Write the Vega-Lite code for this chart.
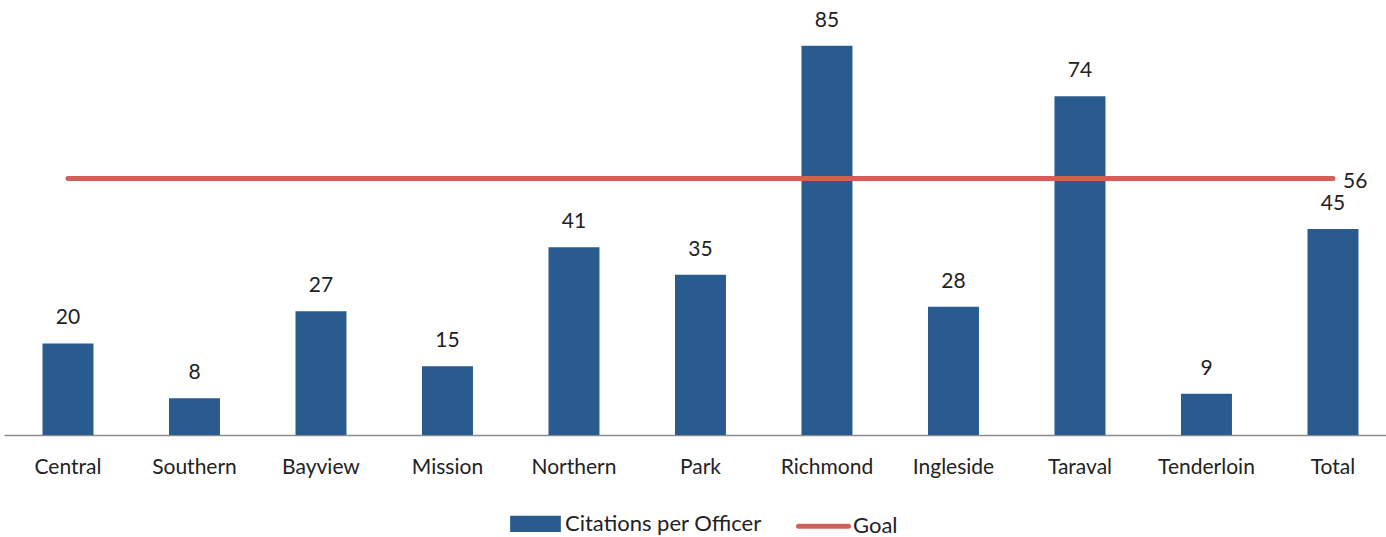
{
  "$schema": "https://vega.github.io/schema/vega-lite/v6.json",
  "width": 1382,
  "height": 435,
  "autosize": {"type": "none"},
  "padding": {"left": 4, "top": 0, "right": 0, "bottom": 102},
  "background": "white",
  "config": {
    "view": {"stroke": null},
    "font": "Lato",
    "text": {"font": "Lato"}
  },
  "data": {
    "values": [
      {"station": "Central", "citations": 20, "goal": 56},
      {"station": "Southern", "citations": 8, "goal": 56},
      {"station": "Bayview", "citations": 27, "goal": 56},
      {"station": "Mission", "citations": 15, "goal": 56},
      {"station": "Northern", "citations": 41, "goal": 56},
      {"station": "Park", "citations": 35, "goal": 56},
      {"station": "Richmond", "citations": 85, "goal": 56},
      {"station": "Ingleside", "citations": 28, "goal": 56},
      {"station": "Taraval", "citations": 74, "goal": 56},
      {"station": "Tenderloin", "citations": 9, "goal": 56},
      {"station": "Total", "citations": 45, "goal": 56}
    ]
  },
  "encoding": {
    "x": {
      "field": "station",
      "type": "nominal",
      "sort": null,
      "scale": {"paddingInner": 0.597, "paddingOuter": 0.261, "align": 0.583},
      "axis": {
        "title": null,
        "labelAngle": 0,
        "ticks": false,
        "domainColor": "#8c8c8c",
        "domainWidth": 1.5,
        "labelFont": "Lato",
        "labelFontSize": 21,
        "labelColor": "#222222",
        "labelPadding": 21
      }
    }
  },
  "layer": [
    {
      "mark": {"type": "bar", "color": "#295B8E"},
      "encoding": {
        "y": {
          "field": "citations",
          "type": "quantitative",
          "scale": {"domain": [0, 95], "nice": false},
          "axis": null
        },
        "color": {
          "datum": "Citations per Officer",
          "type": "nominal",
          "scale": {"domain": ["Citations per Officer", "Goal"], "range": ["#295B8E", "#CE6158"]},
          "legend": {
            "title": null,
            "orient": "none",
            "legendX": 506,
            "legendY": 498,
            "direction": "horizontal",
            "labelFont": "Lato",
            "labelFontSize": 22,
            "labelColor": "#222222",
            "labelLimit": 0,
            "labelOffset": 4,
            "columnPadding": 26,
            "symbolSize": 2330,
            "encode": {
              "symbols": {
                "update": {
                  "shape": {"signal": "datum.value == 'Goal' ? 'stroke' : 'M-1,-0.25H1V0.25H-1Z'"},
                  "size": {"signal": "datum.value == 'Goal' ? 2500 : 2090"},
                  "fill": {"signal": "datum.value == 'Goal' ? 'transparent' : '#295B8E'"},
                  "stroke": {"signal": "datum.value == 'Goal' ? '#CE6158' : 'transparent'"},
                  "strokeWidth": {"value": 5},
                  "strokeCap": {"value": "round"},
                  "opacity": {"value": 1}
                }
              }
            }
          }
        }
      }
    },
    {
      "mark": {"type": "text", "baseline": "bottom", "dy": -15, "fontSize": 21, "color": "#222222", "font": "Lato"},
      "encoding": {
        "y": {"field": "citations", "type": "quantitative"},
        "text": {"field": "citations", "type": "quantitative"}
      }
    },
    {
      "mark": {"type": "line", "strokeWidth": 5, "strokeCap": "round"},
      "encoding": {
        "y": {"field": "goal", "type": "quantitative"},
        "color": {"datum": "Goal", "type": "nominal"}
      }
    },
    {
      "transform": [{"filter": "datum.station == 'Total'"}],
      "mark": {"type": "text", "align": "left", "baseline": "middle", "dx": 10, "dy": 3, "fontSize": 21, "color": "#222222", "font": "Lato"},
      "encoding": {
        "y": {"field": "goal", "type": "quantitative"},
        "text": {"field": "goal", "type": "quantitative"}
      }
    }
  ]
}
